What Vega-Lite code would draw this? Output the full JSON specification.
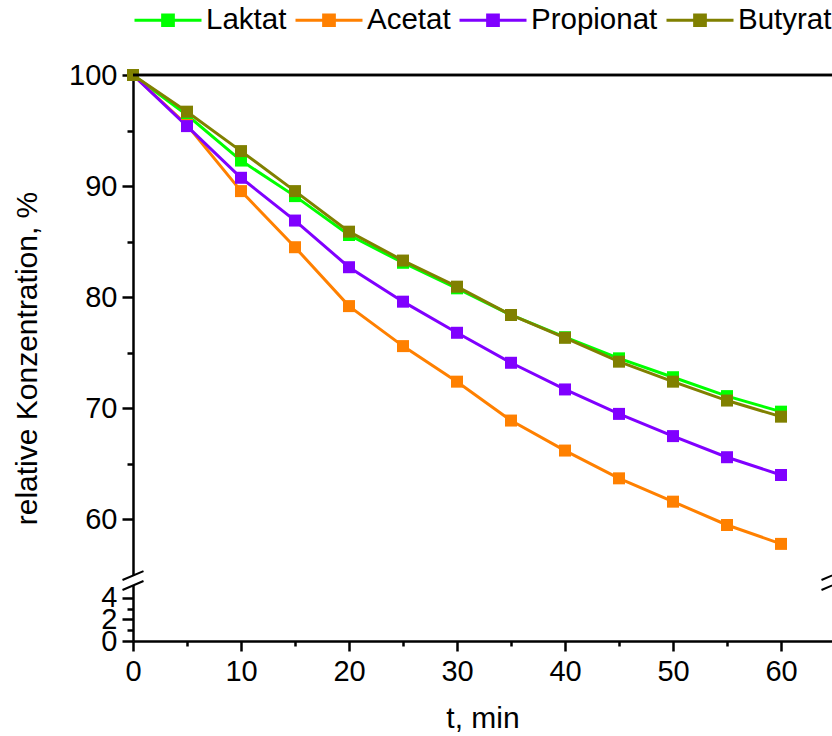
{
  "$schema": "https://vega.github.io/schema/vega-lite/v6.json",
  "width": 699,
  "height": 566,
  "autosize": {"type": "none"},
  "padding": {"left": 133, "top": 75, "right": 0, "bottom": 95},
  "background": "white",
  "config": {
    "view": {"stroke": null},
    "font": "Liberation Sans",
    "axis": {
      "grid": false,
      "domainColor": "black",
      "domainWidth": 2.5,
      "tickColor": "black",
      "tickWidth": 2.5,
      "labelFont": "Liberation Sans",
      "labelFontSize": 29,
      "labelColor": "black",
      "labelFlush": false,
      "labelOverlap": false,
      "titleFont": "Liberation Sans",
      "titleFontSize": 30,
      "titleFontWeight": "normal",
      "titleColor": "black"
    }
  },
  "datasets": {
    "series": [
      {"s": "Laktat", "t": 0, "v": 100}, {"s": "Laktat", "t": 5, "v": 96.4}, {"s": "Laktat", "t": 10, "v": 92.3}, {"s": "Laktat", "t": 15, "v": 89.1}, {"s": "Laktat", "t": 20, "v": 85.6}, {"s": "Laktat", "t": 25, "v": 83.1}, {"s": "Laktat", "t": 30, "v": 80.8}, {"s": "Laktat", "t": 35, "v": 78.4}, {"s": "Laktat", "t": 40, "v": 76.4}, {"s": "Laktat", "t": 45, "v": 74.5}, {"s": "Laktat", "t": 50, "v": 72.8}, {"s": "Laktat", "t": 55, "v": 71.1}, {"s": "Laktat", "t": 60, "v": 69.7},
      {"s": "Acetat", "t": 0, "v": 100}, {"s": "Acetat", "t": 5, "v": 95.5}, {"s": "Acetat", "t": 10, "v": 89.55}, {"s": "Acetat", "t": 15, "v": 84.5}, {"s": "Acetat", "t": 20, "v": 79.2}, {"s": "Acetat", "t": 25, "v": 75.6}, {"s": "Acetat", "t": 30, "v": 72.4}, {"s": "Acetat", "t": 35, "v": 68.9}, {"s": "Acetat", "t": 40, "v": 66.2}, {"s": "Acetat", "t": 45, "v": 63.7}, {"s": "Acetat", "t": 50, "v": 61.6}, {"s": "Acetat", "t": 55, "v": 59.5}, {"s": "Acetat", "t": 60, "v": 57.8},
      {"s": "Propionat", "t": 0, "v": 100}, {"s": "Propionat", "t": 5, "v": 95.4}, {"s": "Propionat", "t": 10, "v": 90.75}, {"s": "Propionat", "t": 15, "v": 86.9}, {"s": "Propionat", "t": 20, "v": 82.7}, {"s": "Propionat", "t": 25, "v": 79.6}, {"s": "Propionat", "t": 30, "v": 76.8}, {"s": "Propionat", "t": 35, "v": 74.1}, {"s": "Propionat", "t": 40, "v": 71.7}, {"s": "Propionat", "t": 45, "v": 69.5}, {"s": "Propionat", "t": 50, "v": 67.5}, {"s": "Propionat", "t": 55, "v": 65.6}, {"s": "Propionat", "t": 60, "v": 64.0},
      {"s": "Butyrat", "t": 0, "v": 100}, {"s": "Butyrat", "t": 5, "v": 96.7}, {"s": "Butyrat", "t": 10, "v": 93.15}, {"s": "Butyrat", "t": 15, "v": 89.55}, {"s": "Butyrat", "t": 20, "v": 85.9}, {"s": "Butyrat", "t": 25, "v": 83.3}, {"s": "Butyrat", "t": 30, "v": 80.95}, {"s": "Butyrat", "t": 35, "v": 78.4}, {"s": "Butyrat", "t": 40, "v": 76.35}, {"s": "Butyrat", "t": 45, "v": 74.2}, {"s": "Butyrat", "t": 50, "v": 72.4}, {"s": "Butyrat", "t": 55, "v": 70.7}, {"s": "Butyrat", "t": 60, "v": 69.25}
    ],
    "breaks": [{"t": 0, "v": 32}, {"t": 64.72, "v": 32}]
  },
  "layer": [
    {
      "data": {"name": "series"},
      "mark": {"type": "line", "strokeWidth": 3},
      "encoding": {
        "x": {"field": "t", "type": "quantitative", "scale": {"domain": [0, 64.72], "nice": false, "zero": false},
          "axis": {"title": "t, min", "values": [0, 5, 10, 15, 20, 25, 30, 35, 40, 45, 50, 55, 60],
            "labelExpr": "datum.value % 10 == 0 ? datum.label : ''",
            "tickSize": {"condition": {"test": "datum.value % 10 != 0", "value": 5}, "value": 10},
            "labelPadding": 6, "titlePadding": 17}},
        "y": {"field": "v", "type": "quantitative", "scale": {"domain": [0, 5, 55, 100], "range": [566, 512, 500, 0], "zero": false, "nice": false},
          "axis": {"title": "relative Konzentration, %", "values": [0, 1, 2, 3, 4, 60, 65, 70, 75, 80, 85, 90, 95, 100],
            "labelExpr": "indexof([0,2,4,60,70,80,90,100], datum.value) >= 0 ? datum.label : ''",
            "tickSize": {"condition": {"test": "indexof([1,3,65,75,85,95], datum.value) >= 0", "value": 6}, "value": 11},
            "labelPadding": 5, "titlePadding": 26}},
        "color": {"field": "s", "type": "nominal",
          "scale": {"domain": ["Laktat", "Acetat", "Propionat", "Butyrat"], "range": ["#00ff00", "#ff8000", "#8000ff", "#808000"]},
          "legend": {"orient": "top", "direction": "horizontal", "title": null,
            "symbolType": "M-1,0H-0.16M0.16,0H1M-0.16,-0.16H0.16V0.16H-0.16Z",
            "symbolSize": 4489, "symbolStrokeWidth": 3, "labelFontSize": 29.5, "labelFont": "Liberation Sans", "labelColor": "black",
            "labelOffset": 3, "columnPadding": 2, "offset": 34, "padding": 0,
            "encode": {"symbols": {"update": {"fill": {"scale": "color", "field": "value"}, "stroke": {"scale": "color", "field": "value"}, "fillOpacity": {"value": 1}, "strokeOpacity": {"value": 1}, "opacity": {"value": 1}}}}}},
        "order": {"field": "t", "type": "quantitative"}
      }
    },
    {
      "data": {"name": "series"},
      "mark": {"type": "point", "shape": "square", "filled": true, "size": 144, "opacity": 1},
      "encoding": {
        "x": {"field": "t", "type": "quantitative", "scale": {"domain": [0, 64.72], "nice": false, "zero": false}},
        "y": {"field": "v", "type": "quantitative", "scale": {"domain": [0, 5, 55, 100], "range": [566, 512, 500, 0], "zero": false, "nice": false}},
        "color": {"field": "s", "type": "nominal", "scale": {"domain": ["Laktat", "Acetat", "Propionat", "Butyrat"], "range": ["#00ff00", "#ff8000", "#8000ff", "#808000"]}}
      }
    },
    {
      "data": {"name": "breaks"},
      "mark": {"type": "rule", "color": "black", "strokeWidth": 2.5},
      "encoding": {
        "y": {"datum": 100, "type": "quantitative", "scale": {"domain": [0, 5, 55, 100], "range": [566, 512, 500, 0], "zero": false, "nice": false}}
      }
    },
    {
      "data": {"name": "breaks"},
      "mark": {"type": "point", "shape": "M-1,-0.05L1,-0.9L1,0.05L-1,0.9Z", "filled": true, "fill": "white", "strokeWidth": 0, "size": 441, "opacity": 1},
      "encoding": {
        "x": {"field": "t", "type": "quantitative", "scale": {"domain": [0, 64.72], "nice": false, "zero": false}},
        "y": {"field": "v", "type": "quantitative", "scale": {"domain": [0, 5, 55, 100], "range": [566, 512, 500, 0], "zero": false, "nice": false}}
      }
    },
    {
      "data": {"name": "breaks"},
      "mark": {"type": "point", "shape": "M-1,-0.05L1,-0.9M-1,0.9L1,0.05", "filled": false, "stroke": "black", "strokeWidth": 2, "size": 441, "opacity": 1},
      "encoding": {
        "x": {"field": "t", "type": "quantitative", "scale": {"domain": [0, 64.72], "nice": false, "zero": false}},
        "y": {"field": "v", "type": "quantitative", "scale": {"domain": [0, 5, 55, 100], "range": [566, 512, 500, 0], "zero": false, "nice": false}}
      }
    }
  ]
}
